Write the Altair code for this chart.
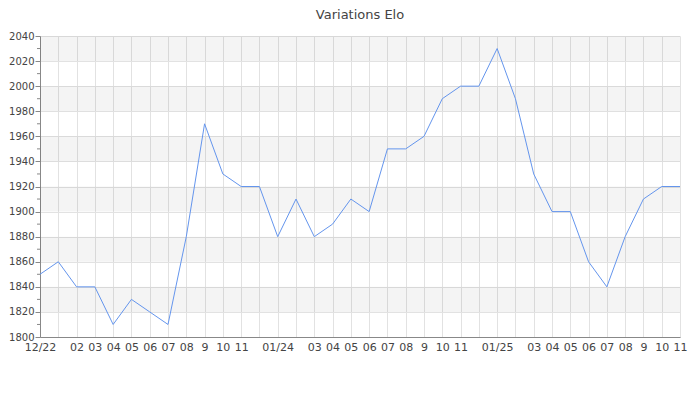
import json
import altair as alt
import pandas as pd

labels = ["12/22", "", "02", "03", "04", "05", "06", "07", "08", "9", "10", "11",
          "", "01/24", "", "03", "04", "05", "06", "07", "08", "9", "10", "11",
          "", "01/25", "", "03", "04", "05", "06", "07", "08", "9", "10", "11"]
elo = [1850, 1860, 1840, 1840, 1810, 1830, 1820, 1810, 1880, 1970, 1930, 1920,
       1920, 1880, 1910, 1880, 1890, 1910, 1900, 1950, 1950, 1960, 1990, 2000,
       2000, 2030, 1990, 1930, 1900, 1900, 1860, 1840, 1880, 1910, 1920, 1920]
band_lo = [1820, 1860, 1900, 1940, 1980, 2020]
band_hi = [1840, 1880, 1920, 1960, 2000, 2040]
y_major = list(range(1800, 2041, 20))
y_minor = list(range(1810, 2041, 20))

df = pd.DataFrame({"i": list(range(len(elo))), "elo": elo})
bands = pd.DataFrame({"lo": band_lo, "hi": band_hi})
minor = pd.DataFrame({"v": y_minor})

label_expr = json.dumps(labels) + "[datum.value]"
font = "DejaVu Sans"

xscale = alt.Scale(domain=[0, len(elo) - 1], nice=False, zero=False)
yscale = alt.Scale(domain=[1800, 2040], nice=False, zero=False)

yaxis = alt.Axis(values=y_major, title=None, grid=True, gridColor="#e2e2e2",
                 tickSize=5, tickColor="#888", domainColor="#888", format="d",
                 labelFont=font, labelFontSize=10, labelColor="#444",
                 labelPadding=1)
xaxis = alt.Axis(values=list(range(len(elo))), labelExpr=label_expr,
                 title=None, grid=True, gridColor="#e2e2e2", ticks=False,
                 domainColor="#888", labelFont=font, labelFontSize=11,
                 labelColor="#444", labelPadding=4, labelOverlap=False,
                 labelFlush=False)

band_layer = alt.Chart(bands).mark_rect(color="#000000", opacity=0.045).encode(
    x=alt.value(0), x2=alt.value(640),
    y=alt.Y("lo:Q", scale=yscale, axis=yaxis),
    y2="hi:Q",
)

minor_ticks = alt.Chart(minor).mark_rule(color="#888", strokeWidth=1, clip=False).encode(
    x=alt.value(-3), x2=alt.value(0),
    y=alt.Y("v:Q", scale=yscale, axis=yaxis),
)

line = alt.Chart(df).mark_line(color="#6495ed", strokeWidth=1).encode(
    x=alt.X("i:Q", scale=xscale, axis=xaxis),
    y=alt.Y("elo:Q", scale=yscale, axis=yaxis),
)

chart = alt.layer(band_layer, minor_ticks, line).properties(
    width=640, height=301,
    autosize=alt.AutoSizeParams(type="none"),
    padding={"left": 32, "top": 28, "right": 12, "bottom": 55},
    title=alt.TitleParams("Variations Elo", font=font, fontSize=13, fontWeight="normal",
                          color="#444", offset=9, anchor="middle"),
).configure_view(stroke=None)

chart.save("out.html", embed_options={"renderer": "svg", "actions": False})
